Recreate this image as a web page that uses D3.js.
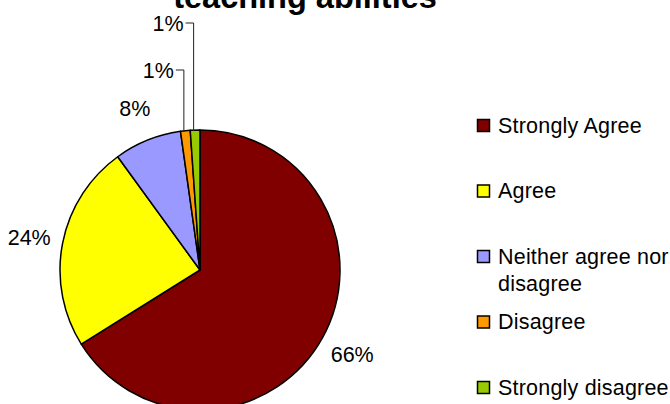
<!DOCTYPE html>
<html>
<head>
<meta charset="utf-8">
<script src="https://cdn.jsdelivr.net/npm/d3@7/dist/d3.min.js"></script>
<style>
  body { margin: 0; background: #fff; }
  svg { display: block; font-family: "Liberation Sans", Arial, sans-serif; }
</style>
</head>
<body>
<div id="chart"></div>
<script>
// responses (counts)
var categories = ["Strongly Agree", "Agree", "Neither agree nor disagree", "Disagree", "Strongly disagree"];
var counts = [119, 43, 14, 2, 2];
var colors = ["#800000", "#FFFF00", "#9999FF", "#FF9900", "#99CC00"];
var legendLines = [["Strongly Agree"], ["Agree"], ["Neither agree nor", "disagree"], ["Disagree"], ["Strongly disagree"]];
var titleText = "teaching abilities";

var width = 670, height = 404,
    cx = 200, cy = 270, radius = 140, labelRadius = 174;

var svg = d3.select("#chart").append("svg")
    .attr("width", width)
    .attr("height", height);

var total = d3.sum(counts);
var data = categories.map(function(c, i) {
  return { name: c, value: counts[i], color: colors[i], lines: legendLines[i] };
});

var pie = d3.pie()
    .sort(null)
    .value(function(d) { return d.value; });

var arcs = pie(data);

var arc = d3.arc().innerRadius(0).outerRadius(radius);
var labelArc = d3.arc().innerRadius(labelRadius).outerRadius(labelRadius);
var edgeArc = d3.arc().innerRadius(radius).outerRadius(radius);

var g = svg.append("g")
    .attr("transform", "translate(" + cx + "," + cy + ")");

g.selectAll(".slice")
    .data(arcs)
    .enter().append("path")
      .attr("class", "slice")
      .attr("d", arc)
      .style("fill", function(d) { return d.data.color; })
      .style("stroke", "#000")
      .style("stroke-width", 1.5)
      .style("stroke-linejoin", "round");

var fmt = function(d) { return Math.round(d.data.value / total * 100) + "%"; };

// big slices: label straight out from the slice middle
var big = arcs.filter(function(d) { return d.data.value / total >= 0.05; });
var small = arcs.filter(function(d) { return d.data.value / total < 0.05; });

g.selectAll(".pct")
    .data(big)
    .enter().append("text")
      .attr("class", "pct")
      .attr("transform", function(d) { return "translate(" + labelArc.centroid(d) + ")"; })
      .attr("text-anchor", "middle")
      .attr("dy", "0.36em")
      .style("font-size", "21.5px")
      .text(fmt);

// small slices: labels lifted above the pie with leader lines
small.forEach(function(d, i) {
  var p = edgeArc.centroid(d);
  var ly = -radius - 60 - i * 47;
  var px = p[0] - 1.5;
  g.append("path")
      .attr("d", "M" + (px - 8) + "," + ly + "H" + px + "V" + (p[1] + 1))
      .style("fill", "none")
      .style("stroke", "#222")
      .style("stroke-width", 1);
  g.append("text")
      .attr("x", px - 10)
      .attr("y", ly)
      .attr("dy", "0.36em")
      .attr("text-anchor", "end")
      .style("font-size", "21.5px")
      .text(fmt(d));
});

svg.append("text")
    .attr("x", 305)
    .attr("y", 8)
    .attr("text-anchor", "middle")
    .style("font-size", "32.5px")
    .style("font-weight", "bold")
    .text(titleText);

// legend
var legendY = d3.scalePoint()
    .domain(categories)
    .range([125, 387]);

var legend = svg.selectAll(".legend")
    .data(data)
    .enter().append("g")
      .attr("class", "legend")
      .attr("transform", function(d) { return "translate(477," + legendY(d.name) + ")"; });

legend.append("rect")
    .attr("x", 0.5)
    .attr("y", -5.5)
    .attr("width", 12)
    .attr("height", 12)
    .style("fill", function(d) { return d.color; })
    .style("stroke", "#000")
    .style("stroke-width", 1.5);

legend.append("text")
    .attr("x", 21)
    .attr("y", 0)
    .style("font-size", "21.5px")
    .style("letter-spacing", "0.2px")
    .each(function(d) {
      d3.select(this).selectAll("tspan")
        .data(d.lines)
        .enter().append("tspan")
          .attr("x", 21)
          .attr("dy", function(t, i) { return i === 0 ? "0.36em" : "27px"; })
          .text(function(t) { return t; });
    });
</script>
</body>
</html>
